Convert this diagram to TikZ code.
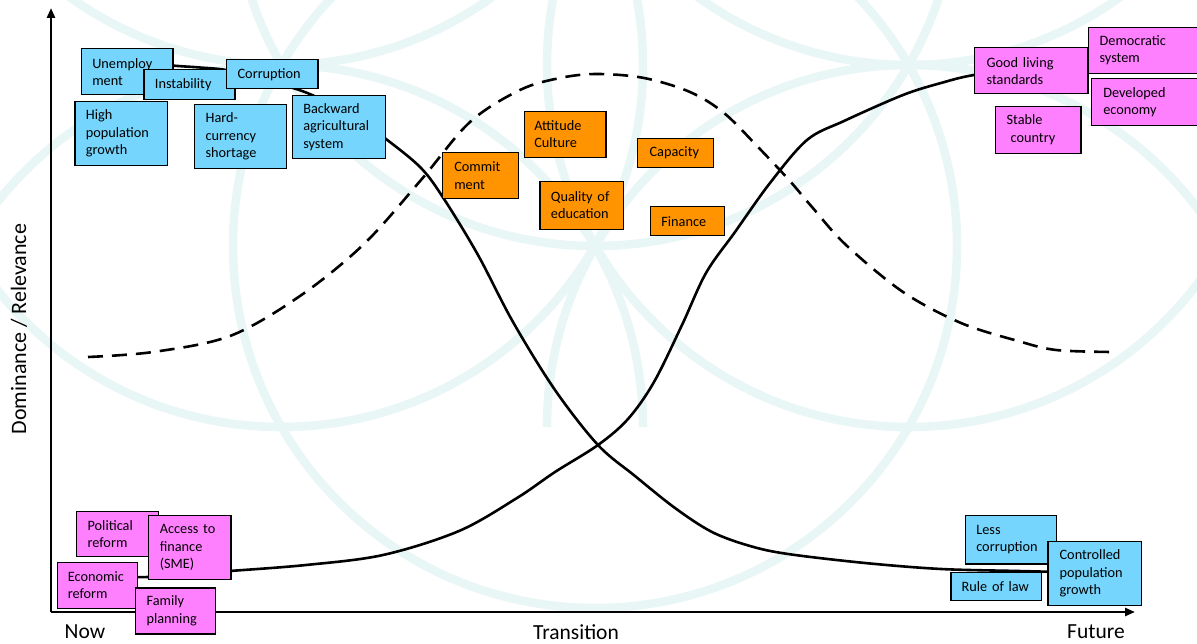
\documentclass[tikz,border=0pt]{standalone}
\usepackage{fontspec}
\setmainfont{Carlito}
\usetikzlibrary{arrows.meta}
\definecolor{bluebox}{RGB}{117,213,252}
\definecolor{orangebox}{RGB}{255,147,0}
\definecolor{pinkbox}{RGB}{255,128,255}
\definecolor{ringcol}{RGB}{232,246,246}
\begin{document}
\begin{tikzpicture}[x=1pt,y=-1pt,
  box/.style={draw=black,line width=1.2pt,anchor=north west,inner xsep=11pt,inner ysep=1pt,align=left,font=\fontsize{14.3}{17.5}\selectfont},
  bbox/.style={box,fill=bluebox},
  obox/.style={box,fill=orangebox},
  pbox/.style={box,fill=pinkbox},
  ring/.style={ringcol,line width=8.5pt},
  curve/.style={line width=2.6pt,line cap=round,line join=round},
  dashcurve/.style={line width=2.6pt,dash pattern=on 15pt off 9pt},
  axis/.style={line width=2.6pt,-{Triangle[length=10pt,width=8pt]}},
  axlabel/.style={font=\fontsize{21.5}{24}\selectfont,inner sep=0pt}]
\useasboundingbox (0,0) rectangle (1197,644);
\fill[white] (0,0) rectangle (1197,644);
% background flower pattern
\begin{scope}
\clip (0,0) rectangle (1197,644);
\foreach \cx/\cy in {595/246, 909/65, 281/65, 595/-116, 909/-297, 281/-297}
  \draw[ring] (\cx,\cy) circle[radius=362];
\draw[ring] (1271,427) arc[start angle=0,end angle=-180,radius=362];
\draw[ring] (643,427) arc[start angle=0,end angle=-180,radius=362];
\end{scope}
% axes
\coordinate (origin) at (51,612);
\coordinate (ytip) at (51,8);
\coordinate (xtip) at (1135,612);
\draw[axis] (origin) -- (ytip);
\draw[axis] (origin) -- (xtip);
% dashed curve
\draw[dashcurve] plot[smooth,tension=0.55] coordinates {(88,357) (153,352) (230,336) (300,296) (364,244) (421,180) (470,122) (520,90) (560,78) (597,74) (644,78) (690,92) (724,113) (758,147) (789,180) (812,207) (846,245) (903,292) (961,323) (1018,341) (1056,350) (1112,352)};
% decreasing curve
\draw[curve] plot[smooth,tension=0.55] coordinates {(160,63) (172,65.5) (200,67.5) (226,70) (260,78) (293,88) (312,95) (350,113) (386,139) (421,168) (444,199) (478,255) (513,322) (555,390) (598,445) (635,476) (675,508) (712,532) (750,546) (788,554) (865,563) (941,569) (1018,571) (1060,572)};
% increasing curve
\draw[curve] plot[smooth,tension=0.55] coordinates {(120,577) (148,577) (190,574) (230,571) (306,565) (383,555) (459,531) (517,498) (555,472) (598,445) (628,419) (654,382) (682,325) (706,273) (735,232) (770,183) (807,140) (844,121) (903,95) (941,83) (974,75) (1030,68) (1090,63.5)};
% blue boxes top-left
\node[bbox,text width=69.6pt,minimum height=46pt] (unemp) at (80.7,48.3) {Unemploy\\ment};
\node[bbox,text width=69pt,minimum height=29.7pt] (instab) at (143.3,69.3) {Instability};
\node[bbox,text width=69.3pt,minimum height=29pt] (corrupt) at (226,59.3) {Corruption};
\node[bbox,text width=70.7pt,minimum height=63.7pt] (highpop) at (74.3,101) {High\\population\\growth};
\node[bbox,text width=69.7pt,minimum height=63.7pt] (hardcur) at (194,104.3) {Hard-\\currency\\shortage};
\node[bbox,text width=71pt,minimum height=63pt] (backward) at (291.7,95) {Backward\\agricultural\\system};
% orange boxes
\node[obox,text width=52pt,minimum height=46.6pt,inner xsep=12pt] (commit) at (441.7,151.7) {Commit\\ment};
\node[obox,text width=61.6pt,minimum height=46pt,inner xsep=10pt] (attitude) at (523.7,110.7) {Attitude\\Culture};
\node[obox,text width=51.7pt,minimum height=29pt,inner xsep=12pt] (capacity) at (637,137.7) {Capacity};
\node[obox,text width=61.4pt,minimum height=48pt] (quality) at (539.3,180.7) {Quality of\\education};
\node[obox,text width=52pt,minimum height=29pt] (finance) at (649.7,206.3) {Finance};
% pink boxes top-right
\node[pbox,text width=89.3pt,minimum height=46pt,inner xsep=12pt] (goodliving) at (974,47.3) {Good living\\standards};
\node[pbox,text width=100pt,minimum height=46pt] (democratic) at (1088,26.7) {Democratic\\system};
\node[pbox,text width=100pt,minimum height=46.7pt,inner xsep=12pt] (developed) at (1090.7,78.3) {Developed\\economy};
\node[pbox,text width=63.3pt,minimum height=47pt] (stable) at (995,105.7) {Stable\\\hspace*{4pt}country};
% pink boxes bottom-left
\node[pbox,text width=59.7pt,minimum height=45.3pt] (political) at (76,510.7) {Political\\reform};
\node[pbox,text width=59.6pt,minimum height=64pt,inner xsep=11.5pt] (access) at (147.7,515) {Access to\\finance\\(SME)};
\node[pbox,text width=59pt,minimum height=46pt,inner xsep=10.5pt] (economic) at (56.7,561.7) {Economic\\reform};
\node[pbox,text width=58pt,minimum height=46pt] (family) at (135,587.3) {Family\\planning};
% blue boxes bottom-right
\node[bbox,text width=69.3pt,minimum height=48.3pt] (lesscorr) at (964.7,515) {Less\\corruption};
\node[bbox,text width=69.4pt,minimum height=28.3pt,inner xsep=10.7pt] (ruleoflaw) at (950.3,571.7) {Rule of law};
\node[bbox,text width=70pt,minimum height=64.3pt,inner xsep=11.7pt] (controlled) at (1047.3,540.7) {Controlled\\population\\growth};
% axis labels
\node[axlabel] (now) at (85,632) {Now};
\node[axlabel] (transition) at (576,632) {Transition};
\node[axlabel] (future) at (1096,632) {Future};
\node[rotate=90,font=\fontsize{22}{26}\selectfont,inner sep=0pt] (ylab) at (19,329) {Dominance / Relevance};
\end{tikzpicture}
\end{document}
